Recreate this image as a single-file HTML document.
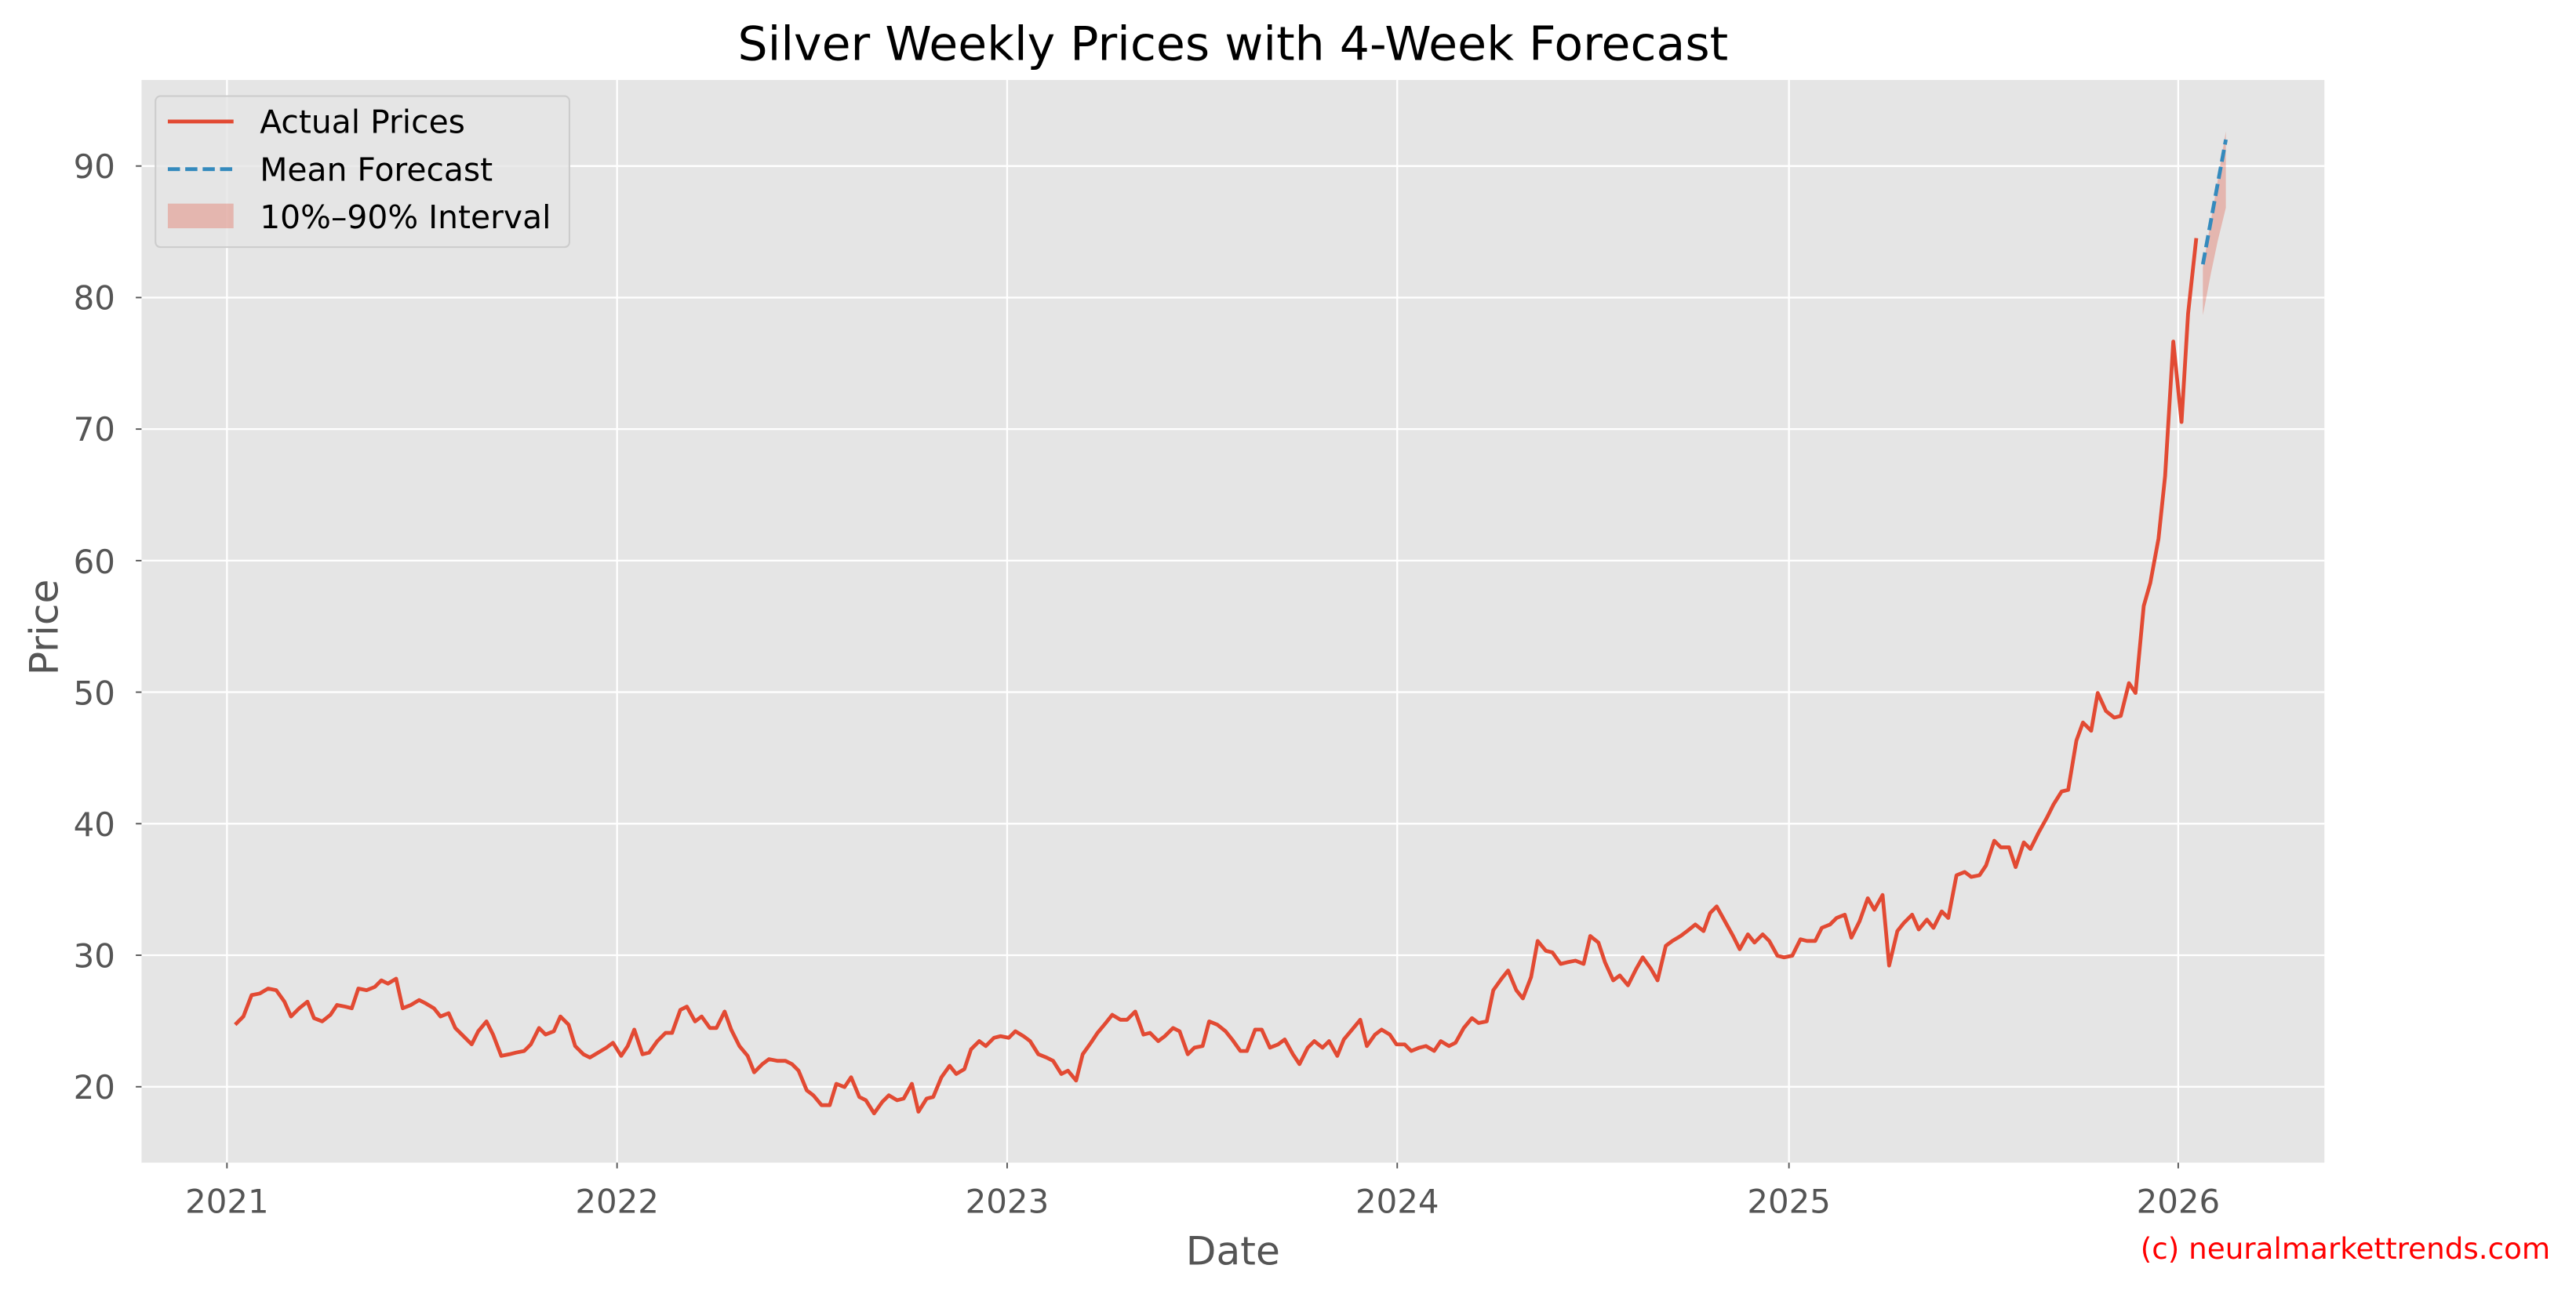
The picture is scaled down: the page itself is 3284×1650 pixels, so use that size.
<!DOCTYPE html>
<html><head><meta charset="utf-8"><style>
html,body{margin:0;padding:0;background:#fff;}
svg{display:block;}
text{font-family:"DejaVu Sans","Liberation Sans",sans-serif;}
</style></head><body>
<svg width="3284" height="1650" viewBox="0 0 1568 788" xmlns="http://www.w3.org/2000/svg">
<rect x="0" y="0" width="1568" height="788" fill="#fff"/>
<rect x="86" y="48.7" width="1329" height="659.3" fill="#e5e5e5"/>
<g stroke="#fff" stroke-width="1.1">
<line x1="86" x2="1415" y1="661.8" y2="661.8"/>
<line x1="86" x2="1415" y1="581.7" y2="581.7"/>
<line x1="86" x2="1415" y1="501.6" y2="501.6"/>
<line x1="86" x2="1415" y1="421.5" y2="421.5"/>
<line x1="86" x2="1415" y1="341.4" y2="341.4"/>
<line x1="86" x2="1415" y1="261.3" y2="261.3"/>
<line x1="86" x2="1415" y1="181.2" y2="181.2"/>
<line x1="86" x2="1415" y1="101.1" y2="101.1"/>
<line x1="138" x2="138" y1="48.7" y2="708"/>
<line x1="375.5" x2="375.5" y1="48.7" y2="708"/>
<line x1="613" x2="613" y1="48.7" y2="708"/>
<line x1="850.5" x2="850.5" y1="48.7" y2="708"/>
<line x1="1089" x2="1089" y1="48.7" y2="708"/>
<line x1="1326" x2="1326" y1="48.7" y2="708"/>
</g>
<g stroke="#555" stroke-width="0.9">
<line x1="82.5" x2="86" y1="661.8" y2="661.8"/><line x1="82.5" x2="86" y1="581.7" y2="581.7"/><line x1="82.5" x2="86" y1="501.6" y2="501.6"/><line x1="82.5" x2="86" y1="421.5" y2="421.5"/><line x1="82.5" x2="86" y1="341.4" y2="341.4"/><line x1="82.5" x2="86" y1="261.3" y2="261.3"/><line x1="82.5" x2="86" y1="181.2" y2="181.2"/><line x1="82.5" x2="86" y1="101.1" y2="101.1"/>
<line x1="138" x2="138" y1="708" y2="711.5"/><line x1="375.5" x2="375.5" y1="708" y2="711.5"/><line x1="613" x2="613" y1="708" y2="711.5"/><line x1="850.5" x2="850.5" y1="708" y2="711.5"/><line x1="1089" x2="1089" y1="708" y2="711.5"/><line x1="1326" x2="1326" y1="708" y2="711.5"/>
</g>
<g fill="#555" font-size="20" text-anchor="end">
<text x="70" y="669">20</text><text x="70" y="589">30</text><text x="70" y="509">40</text><text x="70" y="429">50</text><text x="70" y="349">60</text><text x="70" y="268.5">70</text><text x="70" y="188.5">80</text><text x="70" y="108.5">90</text>
</g>
<g fill="#555" font-size="20" text-anchor="middle">
<text x="138" y="738.5">2021</text><text x="375.5" y="738.5">2022</text><text x="613" y="738.5">2023</text><text x="850.5" y="738.5">2024</text><text x="1089" y="738.5">2025</text><text x="1326" y="738.5">2026</text>
</g>
<text x="750.5" y="770" font-size="24" fill="#555" text-anchor="middle">Date</text>
<text x="0" y="0" font-size="24" fill="#555" text-anchor="middle" transform="translate(35,382) rotate(-90)">Price</text>
<text x="750.5" y="36.5" font-size="28.7" fill="#000" text-anchor="middle">Silver Weekly Prices with 4-Week Forecast</text>
<polygon points="1341,163 1348,122 1355,80 1355,126.5 1350,147 1346,166 1341,192" fill="#e24a33" fill-opacity="0.3"/>
<polyline fill="none" stroke="#e24a33" stroke-width="2.3" stroke-linejoin="round" points="143,624 148,619 153,606 158,605 163,602 168,603 173,610 177,619 182,614 187,610 191,620 196,622 201,618 205,612 210,613 214,614 218,602 223,603 228,601 232,597 236,599 241,596 245,614 250,612 255,609 259,611 264,614 268,619 273,617 277,626 282,631 287,636 291,628 296,622 300,630 305,643 310,642 314,641 319,640 323,636 328,626 332,630 337,628 341,619 346,624 350,637 355,642 359,644 364,641 369,638 373,635 378,643 382,637 386,627 391,642 395,641 400,634 405,629 409,629 414,615 418,613 423,622 427,619 432,626 436,626 441,616 445,627 450,637 455,643 459,653 464,648 468,645 473,646 478,646 482,648 486,652 491,664 495,667 500,673 505,673 509,660 514,662 518,656 523,668 527,670 532,678 537,671 541,667 546,670 550,669 555,660 559,677 564,669 568,668 573,656 578,649 582,654 587,651 591,639 596,634 600,637 605,632 609,631 614,632 618,628 623,631 627,634 632,642 637,644 641,646 646,654 650,652 655,658 659,642 664,635 668,629 673,623 677,618 682,621 686,621 691,616 696,630 700,629 705,634 709,631 714,626 718,628 723,642 727,638 732,637 736,622 741,624 746,628 750,633 755,640 759,640 764,627 768,627 773,638 778,636 782,633 787,642 791,648 796,638 800,634 805,638 809,634 814,643 818,633 823,627 828,621 832,637 837,630 841,627 846,630 850,636 855,636 859,640 864,638 868,637 873,640 877,634 882,637 886,635 891,626 896,620 900,623 905,622 909,603 914,596 918,591 923,603 927,608 932,595 936,573 941,579 945,580 950,587 954,586 959,585 964,587 968,570 973,574 977,586 982,597 986,594 991,600 996,590 1000,583 1005,590 1009,597 1014,576 1018,573 1023,570 1027,567 1032,563 1037,567 1041,556 1045,552 1050,561 1055,570 1059,578 1064,569 1068,574 1073,569 1077,573 1082,582 1086,583 1091,582 1096,572 1100,573 1105,573 1109,565 1114,563 1118,559 1123,557 1127,571 1132,561 1137,547 1141,554 1146,545 1150,588 1155,567 1159,562 1164,557 1168,566 1173,560 1177,565 1182,555 1186,559 1191,533 1196,531 1200,534 1205,533 1209,527 1214,512 1218,516 1223,516 1227,528 1232,513 1236,517 1241,507 1246,498 1250,490 1255,482 1259,481 1264,451 1268,440 1273,445 1277,422 1282,433 1287,437 1291,436 1296,416 1300,422 1305,369 1309,355 1314,328 1318,290 1323,208 1328,257 1332,191 1337,145"/>
<line x1="1341" y1="161" x2="1355" y2="85" stroke="#348abd" stroke-width="2.3" stroke-dasharray="7.4,3.2"/>
<rect x="94.5" y="58.5" width="252" height="92" rx="3" fill="#e5e5e5" fill-opacity="0.8" stroke="#ccc" stroke-width="1"/>
<line x1="102" y1="74" x2="142" y2="74" stroke="#e24a33" stroke-width="2.3"/>
<line x1="102" y1="103" x2="142" y2="103" stroke="#348abd" stroke-width="2.3" stroke-dasharray="7.4,3.2"/>
<rect x="102" y="124" width="40" height="15" fill="#e24a33" fill-opacity="0.3"/>
<g font-size="19.5" fill="#000">
<text x="158" y="81">Actual Prices</text>
<text x="158" y="110">Mean Forecast</text>
<text x="158" y="139">10%–90% Interval</text>
</g>
<text x="1303" y="766.5" font-size="17.8" fill="#ff0000">(c) neuralmarkettrends.com</text>
</svg>
</body></html>
